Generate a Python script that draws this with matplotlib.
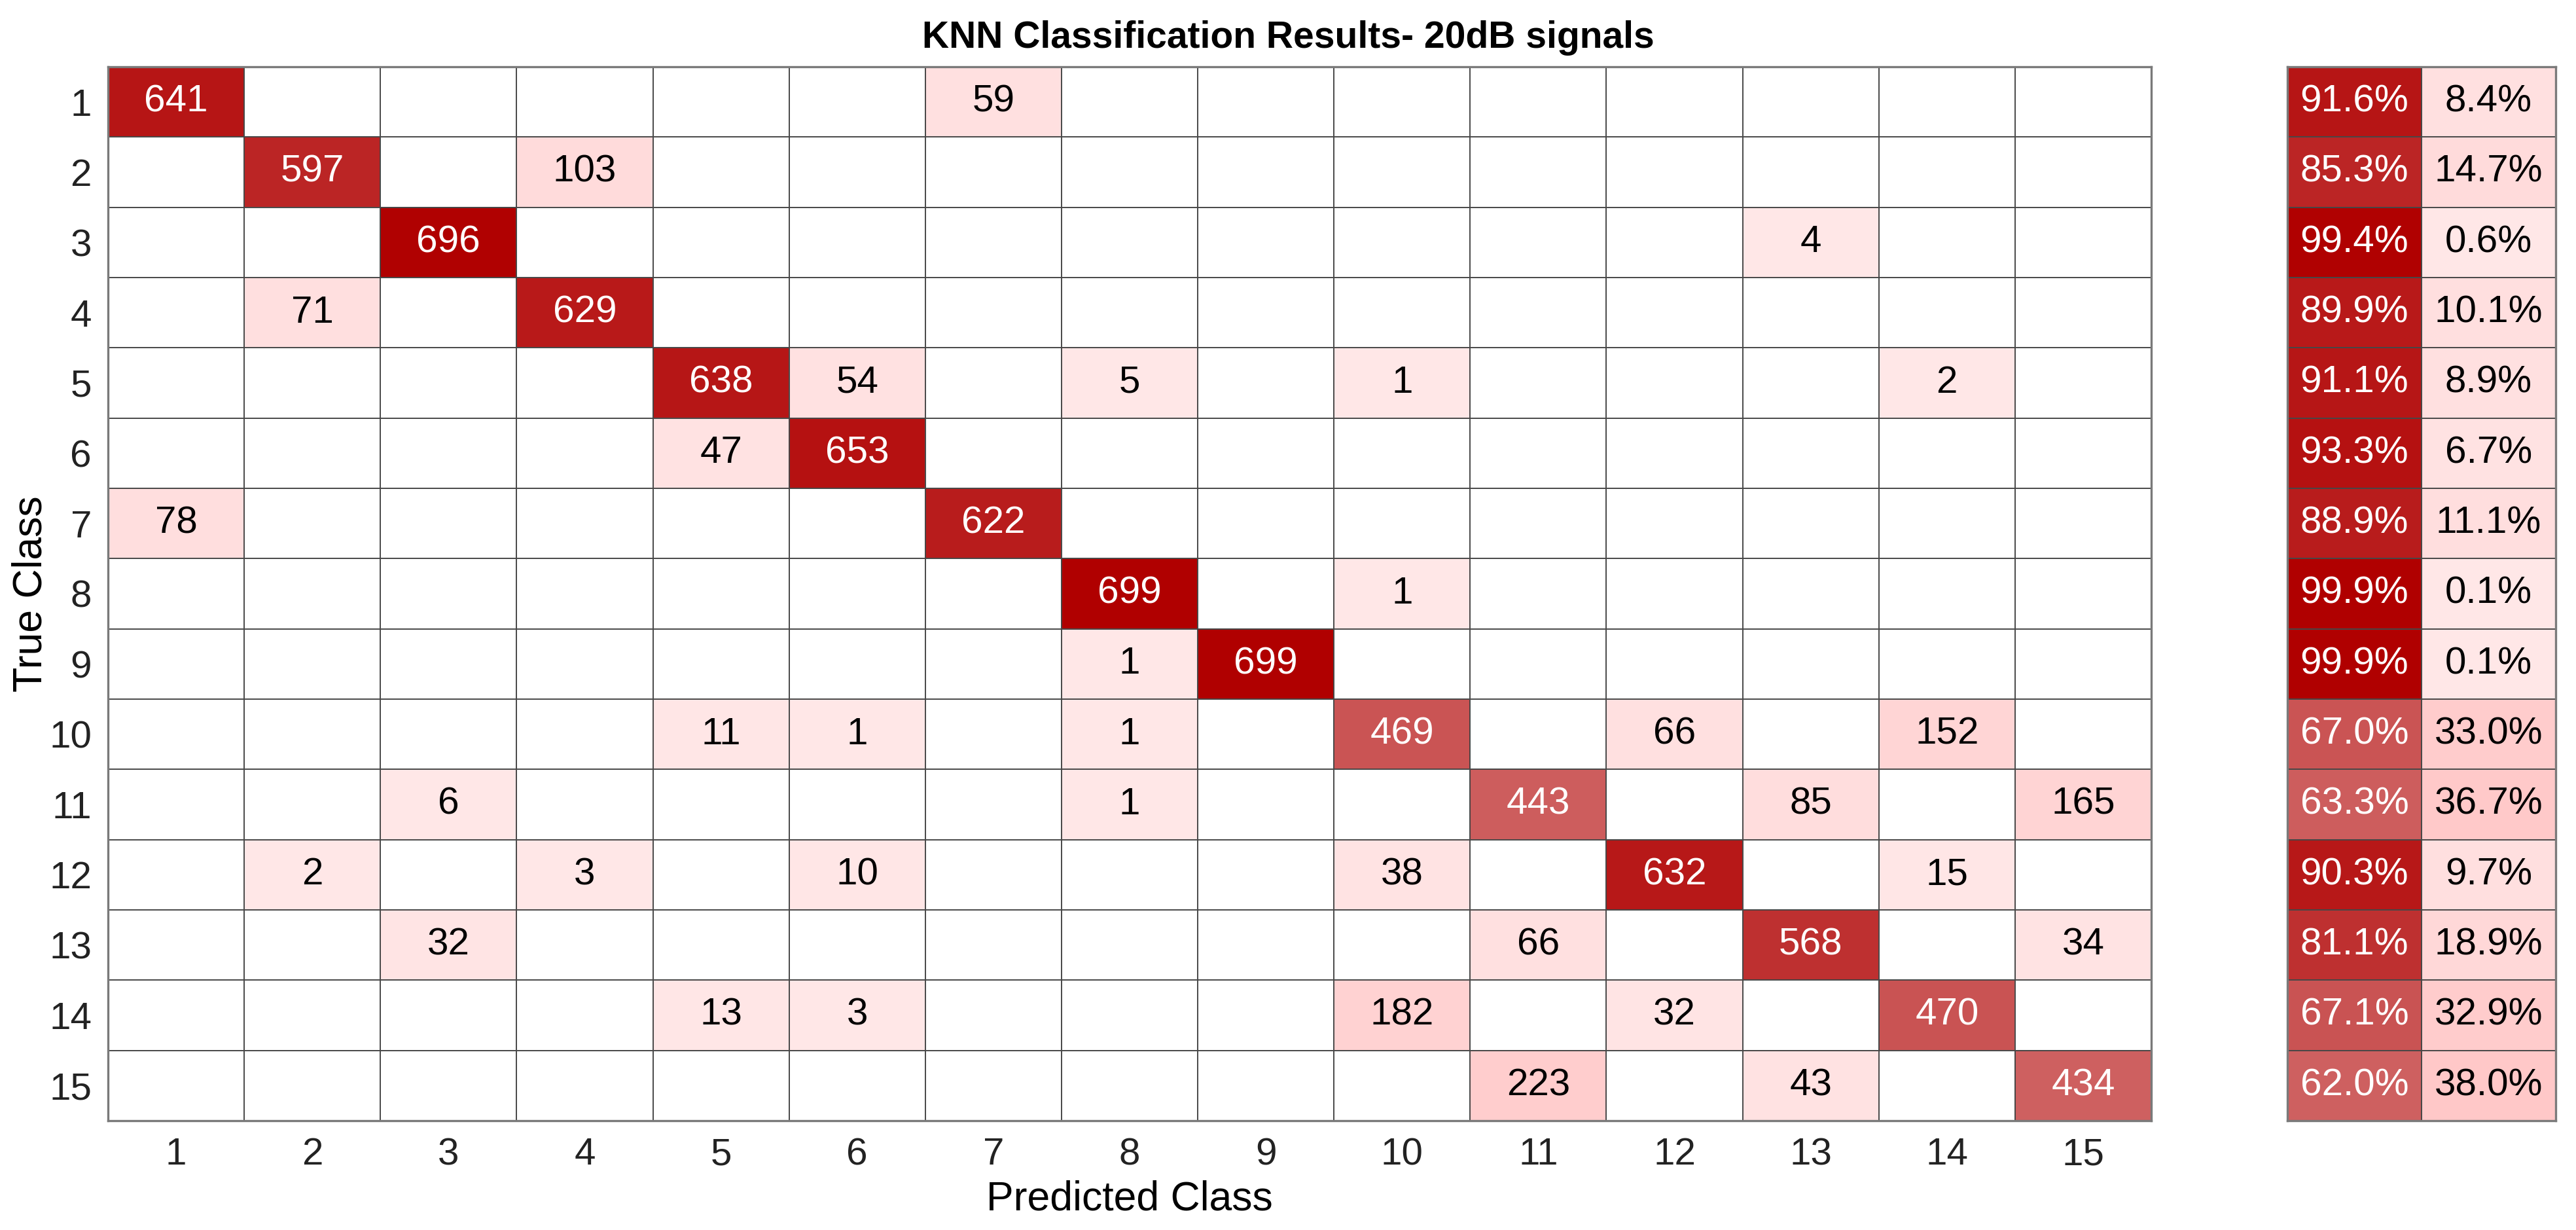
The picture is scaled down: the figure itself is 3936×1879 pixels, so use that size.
import numpy as np
import matplotlib
matplotlib.use("Agg")
import matplotlib.pyplot as plt

plt.rcParams['font.family'] = ['Liberation Sans', 'DejaVu Sans']

# --- data ---
classes = [str(i) for i in range(1, 16)]
title = "KNN Classification Results- 20dB signals"

# confusion matrix, rows = true class, cols = predicted class
cm = np.array([
    [641, 0, 0, 0, 0, 0, 59, 0, 0, 0, 0, 0, 0, 0, 0],
    [0, 597, 0, 103, 0, 0, 0, 0, 0, 0, 0, 0, 0, 0, 0],
    [0, 0, 696, 0, 0, 0, 0, 0, 0, 0, 0, 0, 4, 0, 0],
    [0, 71, 0, 629, 0, 0, 0, 0, 0, 0, 0, 0, 0, 0, 0],
    [0, 0, 0, 0, 638, 54, 0, 5, 0, 1, 0, 0, 0, 2, 0],
    [0, 0, 0, 0, 47, 653, 0, 0, 0, 0, 0, 0, 0, 0, 0],
    [78, 0, 0, 0, 0, 0, 622, 0, 0, 0, 0, 0, 0, 0, 0],
    [0, 0, 0, 0, 0, 0, 0, 699, 0, 1, 0, 0, 0, 0, 0],
    [0, 0, 0, 0, 0, 0, 0, 1, 699, 0, 0, 0, 0, 0, 0],
    [0, 0, 0, 0, 11, 1, 0, 1, 0, 469, 0, 66, 0, 152, 0],
    [0, 0, 6, 0, 0, 0, 0, 1, 0, 0, 443, 0, 85, 0, 165],
    [0, 2, 0, 3, 0, 10, 0, 0, 0, 38, 0, 632, 0, 15, 0],
    [0, 0, 32, 0, 0, 0, 0, 0, 0, 0, 66, 0, 568, 0, 34],
    [0, 0, 0, 0, 13, 3, 0, 0, 0, 182, 0, 32, 0, 470, 0],
    [0, 0, 0, 0, 0, 0, 0, 0, 0, 0, 223, 0, 43, 0, 434],
])

row_tot = cm.sum(axis=1)
correct = np.diag(cm) / row_tot
wrong = 1 - correct


def diag_rgb(frac):
    # white -> dark red
    return np.array([1 - frac * 79 / 255, 1 - frac, 1 - frac])


def off_rgb(frac):
    # pale pink scale for the off-diagonal counts
    g = (232 - 0.12 * 700 * frac) / 255
    return np.array([1.0, g, g])


n = len(classes)
img = np.ones((n, n, 3))
for i in range(n):
    for j in range(n):
        v = cm[i, j] / row_tot[i]
        if cm[i, j] == 0:
            continue
        img[i, j] = diag_rgb(v) if i == j else off_rgb(v)

side = np.ones((n, 2, 3))
for i in range(n):
    side[i, 0] = diag_rgb(correct[i])
    side[i, 1] = off_rgb(wrong[i])

W, H = 3937, 1879
fig = plt.figure(figsize=(W / 200, H / 200), dpi=200)
ax = fig.add_axes([165 / W, 1 - 1712 / H, (3287 - 165) / W, (1712 - 102) / H])
ax2 = fig.add_axes([3495 / W, 1 - 1712 / H, (3905 - 3495) / W, (1712 - 102) / H])

grid_c = '#474747'
edge_c = '#7a7a7a'
fs = 21

ax.imshow(img, aspect='auto', interpolation='nearest')
for i in range(n):
    for j in range(n):
        if cm[i, j] == 0:
            continue
        ax.text(j, i, str(cm[i, j]), ha='center', va='center', fontsize=fs,
                color='white' if i == j else 'black')

ax.set_xticks(range(n))
ax.set_xticklabels(classes)
ax.set_yticks(range(n))
ax.set_yticklabels(classes)
ax.set_xticks(np.arange(-0.5, n, 1), minor=True)
ax.set_yticks(np.arange(-0.5, n, 1), minor=True)
ax.grid(which='minor', color=grid_c, linewidth=0.7)
ax.tick_params(which='both', length=0, labelsize=fs, colors='#222222')
ax.tick_params(axis='x', pad=9)
ax.tick_params(axis='y', pad=9)
ax.set_xlabel('Predicted Class', fontsize=22.5, labelpad=4)
ax.set_ylabel('True Class', fontsize=22.5, va='center')
ax.yaxis.set_label_coords((47 - 165) / (3287 - 165), 0.5)
for s in ax.spines.values():
    s.set_color(edge_c)
    s.set_linewidth(1.2)

fig.suptitle(title, fontsize=20.5, fontweight='bold', x=0.5, y=1 - 58 / H, va='center')

ax2.imshow(side, aspect='auto', interpolation='nearest')
for i in range(n):
    ax2.text(0, i, f"{correct[i] * 100:.1f}%", ha='center', va='center',
             fontsize=fs, color='white')
    ax2.text(1, i, f"{wrong[i] * 100:.1f}%", ha='center', va='center',
             fontsize=fs, color='black')
ax2.set_xticks([])
ax2.set_yticks([])
ax2.set_xticks(np.arange(-0.5, 2, 1), minor=True)
ax2.set_yticks(np.arange(-0.5, n, 1), minor=True)
ax2.grid(which='minor', color=grid_c, linewidth=0.7)
ax2.tick_params(which='both', length=0)
for s in ax2.spines.values():
    s.set_color(edge_c)
    s.set_linewidth(1.2)

fig.savefig('out.png', dpi=200, facecolor='white')
